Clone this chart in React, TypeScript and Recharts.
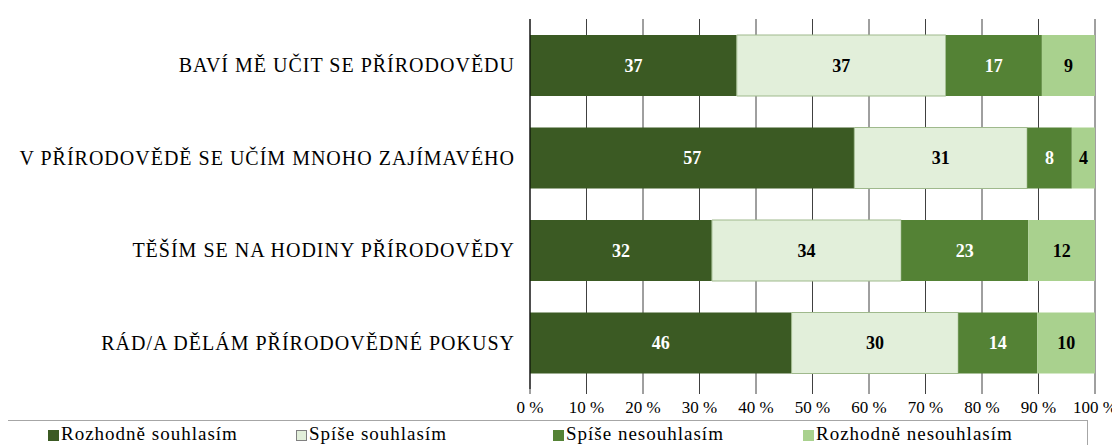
import React from "react";
import { BarChart, Bar, XAxis, YAxis, CartesianGrid, Legend, LabelList } from "recharts";

const categories = [
  "BAVÍ MĚ UČIT SE PŘÍRODOVĚDU",
  "V PŘÍRODOVĚDĚ SE UČÍM MNOHO ZAJÍMAVÉHO",
  "TĚŠÍM SE NA HODINY PŘÍRODOVĚDY",
  "RÁD/A DĚLÁM PŘÍRODOVĚDNÉ POKUSY",
];
const rozhodneSouhlasim = [36.6, 57.4, 32.2, 46.3];
const spiseSouhlasim = [37.0, 30.6, 33.5, 29.5];
const spiseNesouhlasim = [17.0, 7.9, 22.5, 14.0];
const rozhodneNesouhlasim = [9.4, 4.1, 11.8, 10.2];
const xTicks = [0, 10, 20, 30, 40, 50, 60, 70, 80, 90, 100];

const seriesNames = ["Rozhodně souhlasím", "Spíše souhlasím", "Spíše nesouhlasím", "Rozhodně nesouhlasím"];
const seriesKeys = ["rs", "ss", "sn", "rn"];
const seriesColors = ["#3b5a23", "#e2efda", "#548235", "#a9d18e"];
const seriesStrokes = ["none", "#9fb98c", "none", "none"];
const labelColors = ["#ffffff", "#000000", "#ffffff", "#000000"];

const data = categories.map((c, i) => ({
  name: c,
  rs: rozhodneSouhlasim[i],
  ss: spiseSouhlasim[i],
  sn: spiseNesouhlasim[i],
  rn: rozhodneNesouhlasim[i],
}));

const FONT = "Liberation Serif, DejaVu Serif, serif";

const legendLefts = [47, 295, 552, 802];

const LegendBox = () => (
  <div
    style={{
      position: "relative",
      height: 25,
      boxSizing: "border-box",
      border: "1px solid #a6a6a6",
      borderBottom: "none",
      fontFamily: FONT,
      fontSize: 19,
      letterSpacing: 1,
      color: "#000",
    }}
  >
    {seriesNames.map((n, i) => (
      <div
        key={n}
        style={{
          position: "absolute",
          left: legendLefts[i] + 3,
          top: 2,
          display: "flex",
          alignItems: "center",
          whiteSpace: "nowrap",
          lineHeight: "22px",
        }}
      >
        <span
          style={{
            display: "inline-block",
            width: 11,
            height: 11,
            boxSizing: "border-box",
            background: seriesColors[i],
            border: seriesStrokes[i] === "none" ? "none" : `1px solid #808080`,
            marginRight: 2,
            marginTop: 3,
          }}
        />
        {n}
      </div>
    ))}
  </div>
);

export default function App() {
  return (
    <BarChart
      width={1120}
      height={445}
      data={data}
      layout="vertical"
      margin={{ top: 19, right: 25, left: 0, bottom: 0 }}
      barSize={61}
      style={{ marginLeft: -8, marginTop: -8 }}
    >
      <CartesianGrid horizontal={false} vertical stroke="#404040" strokeOpacity={1} />
      <XAxis
        type="number"
        domain={[0, 100]}
        ticks={xTicks}
        tickFormatter={(v: number) => `${v} %`}
        axisLine={false}
        tickLine={{ stroke: "#404040" }}
        tickSize={5}
        tickMargin={7}
        height={31}
        interval={0}
        tick={{ fontFamily: FONT, fontSize: 17, fill: "#000" }}
      />
      <YAxis
        type="category"
        dataKey="name"
        width={530}
        axisLine={{ stroke: "#000" }}
        tickLine={false}
        tickSize={0}
        tickMargin={15}
        interval={0}
        tick={{ fontFamily: FONT, fontSize: 20, fill: "#000", letterSpacing: 1 }}
      />
      <Legend
        verticalAlign="bottom"
        height={25}
        content={() => <LegendBox />}
        wrapperStyle={{ left: -3, width: 1091, bottom: 0 }}
      />
      {seriesKeys.map((k, i) => (
        <Bar
          key={k}
          dataKey={k}
          name={seriesNames[i]}
          stackId="a"
          fill={seriesColors[i]}
          stroke={seriesStrokes[i]}
          strokeWidth={1}
          isAnimationActive={false}
        >
          <LabelList
            dataKey={k}
            position="center"
            formatter={(v: number) => Math.round(v)}
            style={{ fontFamily: FONT, fontSize: 18, fontWeight: "bold", fill: labelColors[i] }}
          />
        </Bar>
      ))}
    </BarChart>
  );
}
